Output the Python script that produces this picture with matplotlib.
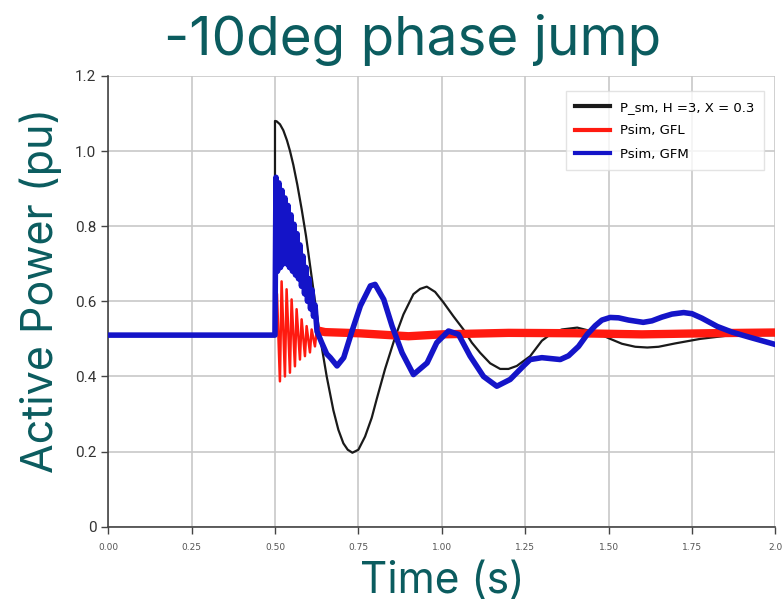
import matplotlib
matplotlib.use("Agg")
import matplotlib.pyplot as plt

teal = "#0b5c5f"

# P_sm, H=3, X=0.3 (black)
t_sm = [0.0, 0.25, 0.4999, 0.500, 0.505, 0.515, 0.525, 0.536, 0.545, 0.555, 0.567, 0.58,
        0.593, 0.606, 0.62, 0.636, 0.655, 0.675, 0.69, 0.705, 0.718, 0.732, 0.75, 0.77,
        0.79, 0.805, 0.83, 0.861, 0.885, 0.915, 0.935, 0.955, 0.98, 1.005, 1.035, 1.065,
        1.09, 1.115, 1.145, 1.175, 1.20, 1.225, 1.265, 1.30, 1.33, 1.36, 1.406, 1.45,
        1.48, 1.505, 1.54, 1.58, 1.616, 1.65, 1.70, 1.775, 1.85, 1.95, 2.0]
p_sm = [0.51, 0.51, 0.51, 1.08, 1.079, 1.071, 1.055, 1.028, 1.000, 0.963, 0.91, 0.845,
        0.774, 0.69, 0.60, 0.50, 0.40, 0.31, 0.258, 0.222, 0.205, 0.197, 0.205, 0.24,
        0.29, 0.34, 0.42, 0.507, 0.565, 0.619, 0.633, 0.639, 0.625, 0.597, 0.56, 0.525,
        0.49, 0.463, 0.435, 0.42, 0.42, 0.428, 0.454, 0.495, 0.515, 0.525, 0.53, 0.52,
        0.51, 0.50, 0.487, 0.479, 0.477, 0.479, 0.488, 0.50, 0.508, 0.51, 0.51]

# Psim, GFL (red)
t_gfl = [0.0, 0.25, 0.500, 0.506, 0.5148, 0.5198, 0.5298, 0.5348, 0.5448, 0.5498, 0.5598,
         0.5648, 0.5748, 0.5798, 0.5898, 0.5948, 0.6048, 0.6098, 0.6198, 0.626, 0.632,
         0.64, 0.65, 0.75, 0.90, 1.00, 1.20, 1.40, 1.60, 1.80, 2.0]
p_gfl = [0.51, 0.51, 0.51, 0.62, 0.387, 0.653, 0.40, 0.632, 0.41, 0.605, 0.427,
         0.579, 0.445, 0.552, 0.454, 0.534, 0.464, 0.525, 0.48, 0.53, 0.50,
         0.52, 0.518, 0.515, 0.507, 0.512, 0.516, 0.515, 0.512, 0.515, 0.517]

# Psim, GFM (blue)
t_gfm = [0.0, 0.25, 0.4999, 0.503, 0.5075, 0.512, 0.5165, 0.521, 0.5255, 0.530, 0.5345,
         0.539, 0.5435, 0.548, 0.5525, 0.557, 0.5615, 0.566, 0.5705, 0.575, 0.5795, 0.584,
         0.5885, 0.593, 0.5975, 0.602, 0.6065, 0.611, 0.6155, 0.620, 0.626,
         0.64, 0.655, 0.666, 0.686, 0.706,
         0.731, 0.756, 0.786, 0.80, 0.826, 0.851, 0.881, 0.915, 0.956, 0.985, 1.02, 1.05,
         1.085, 1.125, 1.165, 1.205, 1.245, 1.265, 1.30, 1.355, 1.38, 1.41, 1.436, 1.46,
         1.48, 1.505, 1.53, 1.56, 1.604, 1.63, 1.66, 1.69, 1.725, 1.75, 1.78, 1.826, 1.87,
         1.92, 1.96, 2.0]
p_gfm = [0.51, 0.51, 0.51, 0.93, 0.68, 0.915, 0.69, 0.895, 0.70, 0.875, 0.70,
         0.855, 0.69, 0.83, 0.68, 0.805, 0.67, 0.78, 0.66, 0.75, 0.64, 0.72,
         0.62, 0.69, 0.60, 0.66, 0.58, 0.63, 0.56, 0.59, 0.52,
         0.49, 0.46, 0.45, 0.428, 0.45,
         0.521, 0.588, 0.641, 0.645, 0.605, 0.534, 0.463, 0.405, 0.436, 0.49, 0.521, 0.512,
         0.454, 0.40, 0.374, 0.392, 0.428, 0.445, 0.45, 0.445, 0.455, 0.48, 0.512, 0.535,
         0.55, 0.557, 0.556, 0.55, 0.544, 0.548, 0.558, 0.566, 0.57, 0.567, 0.555, 0.533, 0.518,
         0.505, 0.495, 0.485]

x_ticks = [0.0, 0.25, 0.5, 0.75, 1.0, 1.25, 1.5, 1.75, 2.0]
x_labels = ["0.00", "0.25", "0.50", "0.75", "1.00", "1.25", "1.50", "1.75", "2.0"]
y_ticks = [0.0, 0.2, 0.4, 0.6, 0.8, 1.0, 1.2]
y_labels = ["0", "0.2", "0.4", "0.6", "0.8", "1.0", "1.2"]

fig = plt.figure(figsize=(7.84, 6.02), dpi=100)
ax = fig.add_axes([0.138, 0.125, 0.851, 0.749])

ax.plot(t_sm, p_sm, color="#1a1a1a", lw=1.6, label="P_sm, H =3, X = 0.3", zorder=3)
# thin pass for the spikes, thick pass for the rippled band
ax.plot(t_gfl, p_gfl, color="#ff1a10", lw=1.8, zorder=4)
n0 = t_gfl.index(0.64)
ax.plot(t_gfl[n0:], p_gfl[n0:], color="#ff1a10", lw=6, zorder=4, label="Psim, GFL")
ax.plot(t_gfm, p_gfm, color="#1414c8", lw=4, zorder=5, label="Psim, GFM")

ax.set_xlim(0, 2.0)
ax.set_ylim(0, 1.2)
ax.set_xticks(x_ticks)
ax.set_xticklabels(x_labels, fontsize=6.5, color="#555555")
ax.set_yticks(y_ticks)
ax.set_yticklabels(y_labels, fontsize=11, color="#333333", family="Roboto")
ax.grid(True, color="#c8c8c8", lw=1.2)
ax.set_axisbelow(True)
for s in ["top", "right"]:
    ax.spines[s].set_visible(False)
for s in ["left", "bottom"]:
    ax.spines[s].set_color("#444444")
    ax.spines[s].set_linewidth(1.2)
ax.tick_params(length=5, width=1.0, color="#444444")
ax.tick_params(axis="x", pad=7)

ax.set_xlabel("Time (s)", fontsize=30.5, color=teal, family="Inter", labelpad=6)
ax.set_ylabel("Active Power (pu)", fontsize=31, color=teal, family="Inter")
ax.yaxis.set_label_coords(-0.069, 0.525)
fig.text(0.526, 0.909, "-10deg phase jump", fontsize=39.5, color=teal, family="Inter",
         ha="center", va="baseline")

leg = ax.legend(loc="upper right", fontsize=9.5, handlelength=2.6, frameon=True,
                fancybox=False, edgecolor="#dddddd", borderpad=0.7, labelspacing=0.8,
                bbox_to_anchor=(0.9925, 0.98))
for h in leg.get_lines():
    h.set_linewidth(3)

fig.savefig("out.png", dpi=100)
